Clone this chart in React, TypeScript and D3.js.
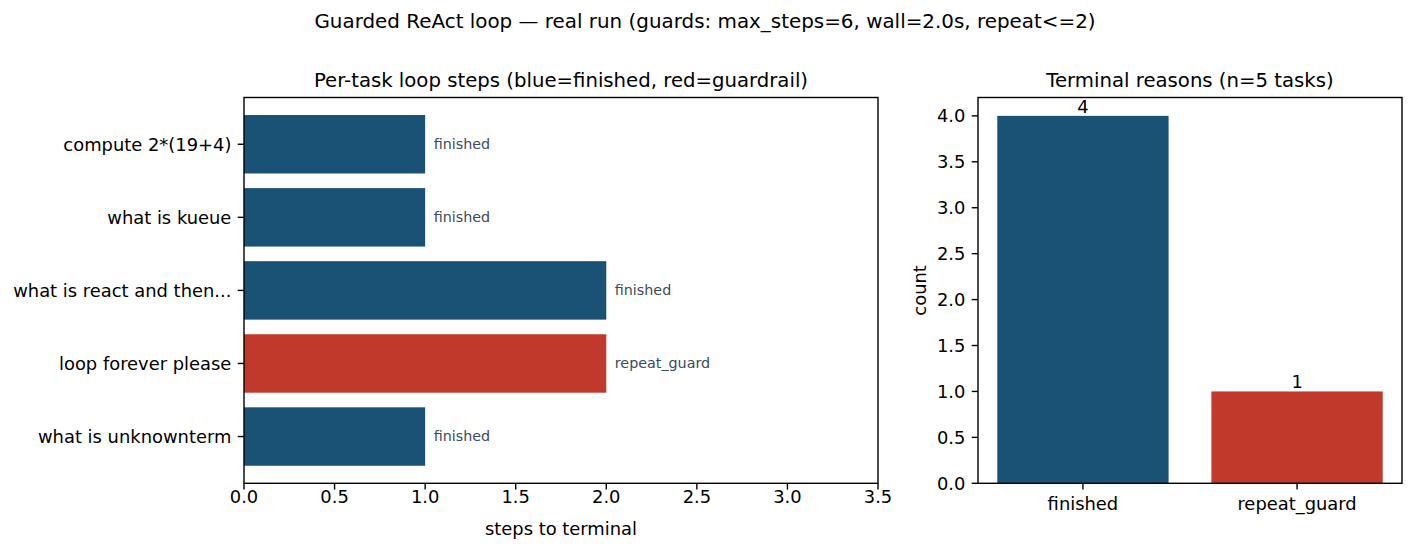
import React from "react";
import * as d3 from "d3";

const tasks = ["compute 2*(19+4)", "what is kueue", "what is react and then...", "loop forever please", "what is unknownterm"];
const steps = [1, 1, 2, 2, 1];
const reasons = ["finished", "finished", "finished", "repeat_guard", "finished"];
const reasonCats = ["finished", "repeat_guard"];
const reasonCounts = [4, 1];
const xTicksLeft = [0, 0.5, 1, 1.5, 2, 2.5, 3, 3.5];
const yTicksRight = [0, 0.5, 1, 1.5, 2, 2.5, 3, 3.5, 4];

const BLUE = "#1a5276";
const RED = "#c0392b";
const FONT = "DejaVu Sans, sans-serif";
const TICK = 17.9;
const TITLE = 19.7;
const ANN = 14.3;
const LW = 1.4;
const TL = 6.3;

export default function App() {
  const W = 1413, H = 552;
  const L = { x0: 244, x1: 878, y0: 97.5, y1: 483.3 };
  const xL = d3.scaleLinear().domain([0, 3.5]).range([L.x0, L.x1]);
  const yL = d3.scaleLinear().domain([-0.64, 4.64]).range([L.y0, L.y1]);
  const R = { x0: 978, x1: 1402, y0: 97.5, y1: 483.3 };
  const xR = d3.scaleLinear().domain([-0.49, 1.49]).range([R.x0, R.x1]);
  const yR = d3.scaleLinear().domain([0, 4.2]).range([R.y1, R.y0]);
  const color = (r: string) => (r === "finished" ? BLUE : RED);

  return (
    <svg width={W} height={H} style={{ display: "block", position: "absolute", left: 0, top: 0 }} fontFamily={FONT}>
      <rect width={W} height={H} fill="#fff" />
      <text x={705} y={28} textAnchor="middle" fontSize={19.9} fill="#000">
        Guarded ReAct loop — real run (guards: max_steps=6, wall=2.0s, repeat&lt;=2)
      </text>

      {/* Left panel */}
      <text x={(L.x0 + L.x1) / 2} y={87} textAnchor="middle" fontSize={TITLE}>
        Per-task loop steps (blue=finished, red=guardrail)
      </text>
      {tasks.map((t, i) => (
        <g key={t}>
          <rect x={xL(0)} y={yL(i - 0.4)} width={xL(steps[i]) - xL(0)} height={yL(i + 0.4) - yL(i - 0.4)} fill={color(reasons[i])} />
          <text x={xL(steps[i]) + 8.5} y={yL(i)} dy="0.33em" fontSize={ANN} fill="#3b4a5c">{reasons[i]}</text>
          <line x1={L.x0 - TL} x2={L.x0} y1={yL(i)} y2={yL(i)} stroke="#000" strokeWidth={LW} />
          <text x={L.x0 - 12.6} y={yL(i)} dy="0.36em" textAnchor="end" fontSize={TICK}>{t}</text>
        </g>
      ))}
      {xTicksLeft.map((v) => (
        <g key={v}>
          <line x1={xL(v)} x2={xL(v)} y1={L.y1} y2={L.y1 + TL} stroke="#000" strokeWidth={LW} />
          <text x={xL(v)} y={502.5} textAnchor="middle" fontSize={TICK}>{v.toFixed(1)}</text>
        </g>
      ))}
      <rect x={L.x0} y={L.y0} width={L.x1 - L.x0} height={L.y1 - L.y0} fill="none" stroke="#000" strokeWidth={LW} />
      <text x={(L.x0 + L.x1) / 2} y={534.5} textAnchor="middle" fontSize={TICK}>steps to terminal</text>

      {/* Right panel */}
      <text x={(R.x0 + R.x1) / 2} y={87} textAnchor="middle" fontSize={TITLE}>
        Terminal reasons (n=5 tasks)
      </text>
      {reasonCats.map((c, i) => (
        <g key={c}>
          <rect x={xR(i - 0.4)} y={yR(reasonCounts[i])} width={xR(i + 0.4) - xR(i - 0.4)} height={yR(0) - yR(reasonCounts[i])} fill={color(c)} />
          <text x={xR(i)} y={yR(reasonCounts[i]) - 3} textAnchor="middle" fontSize={TICK}>{reasonCounts[i]}</text>
          <line x1={xR(i)} x2={xR(i)} y1={R.y1} y2={R.y1 + TL} stroke="#000" strokeWidth={LW} />
          <text x={xR(i)} y={509.5} textAnchor="middle" fontSize={TICK}>{c}</text>
        </g>
      ))}
      {yTicksRight.map((v) => (
        <g key={v}>
          <line x1={R.x0 - TL} x2={R.x0} y1={yR(v)} y2={yR(v)} stroke="#000" strokeWidth={LW} />
          <text x={R.x0 - 12.6} y={yR(v)} dy="0.36em" textAnchor="end" fontSize={TICK}>{v.toFixed(1)}</text>
        </g>
      ))}
      <rect x={R.x0} y={R.y0} width={R.x1 - R.x0} height={R.y1 - R.y0} fill="none" stroke="#000" strokeWidth={LW} />
      <text transform={`translate(926,${(R.y0 + R.y1) / 2}) rotate(-90)`} textAnchor="middle" fontSize={TICK}>count</text>
    </svg>
  );
}
